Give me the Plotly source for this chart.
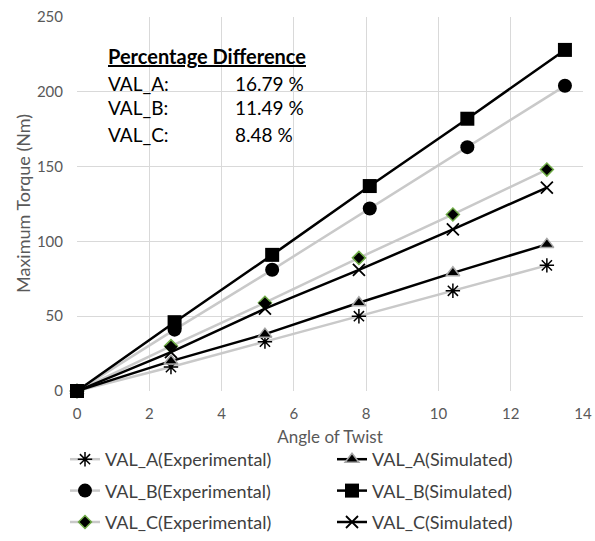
import plotly.graph_objects as go

# ---- data ----
angle_A = [0, 2.6, 5.2, 7.8, 10.4, 13.0]
A_exp = [0, 16, 33, 50, 67, 84]
A_sim = [0, 20, 38, 59, 79, 98]

angle_B = [0, 2.7, 5.4, 8.1, 10.8, 13.5]
B_exp = [0, 41, 81, 122, 163, 204]
B_sim = [0, 46, 91, 137, 182, 228]

angle_C = [0, 2.6, 5.2, 7.8, 10.4, 13.0]
C_exp = [0, 30, 59, 89, 118, 148]
C_sim = [0, 26, 55, 81, 108, 136]

pct_labels = ["VAL_A:", "VAL_B:", "VAL_C:"]
pct_values = [16.79, 11.49, 8.48]

x_ticks = [0, 2, 4, 6, 8, 10, 12, 14]
y_ticks = [0, 50, 100, 150, 200, 250]

FONT = "Lato"
GRAY_LINE = "#c9c9c9"
TXT = "#404040"
AX = "#595959"

fig = go.Figure()

def add(x, y, name, line_color, symbol, size, mcolor, mline_color, mline_width, legend):
    fig.add_trace(go.Scatter(
        x=x, y=y, name=name, mode="lines+markers",
        line=dict(color=line_color, width=2.5),
        marker=dict(symbol=symbol, size=size, color=mcolor,
                    line=dict(color=mline_color, width=mline_width)),
        legend=legend, legendgroup=name, cliponaxis=False,
    ))

add(angle_A, A_exp, "VAL_A(Experimental)", GRAY_LINE, "asterisk-open", 12, "black", "black", 1.5, "legend")
add(angle_B, B_exp, "VAL_B(Experimental)", GRAY_LINE, "circle", 14, "black", "black", 0, "legend")
add(angle_C, C_exp, "VAL_C(Experimental)", GRAY_LINE, "diamond", 10, "black", "#70ad47", 1.5, "legend")
add(angle_A, A_sim, "VAL_A(Simulated)", "black", "triangle-up", 12, "black", "#a6a6a6", 1.5, "legend2")
add(angle_B, B_sim, "VAL_B(Simulated)", "black", "square", 14, "black", "black", 0, "legend2")
add(angle_C, C_sim, "VAL_C(Simulated)", "black", "x-thin-open", 12, "black", "black", 1.8, "legend2")

L, R, T, B = 77, 12, 17, 150
W, H = 595, 541
pw, ph = W - L - R, H - T - B

def px(xp):
    return (xp - L) / pw

def py(yp):
    return (H - B - yp) / ph

annotations = [
    dict(text="<b><u>Percentage Difference</u></b>", x=px(106), y=py(56),
         xanchor="left", yanchor="middle", font=dict(size=20, color="black", family=FONT)),
]
row_y = [83, 108, 134]
for lab, val, yy in zip(pct_labels, pct_values, row_y):
    annotations.append(dict(text=lab, x=px(106), y=py(yy), xanchor="left", yanchor="middle",
                            font=dict(size=19, color="black", family=FONT)))
    annotations.append(dict(text=f"{val:.2f} %", x=px(233), y=py(yy), xanchor="left", yanchor="middle",
                            font=dict(size=19, color="black", family=FONT)))
# y-axis title
annotations.append(dict(text="Maximum Torque (Nm)", x=px(23), y=0.5, textangle=-90,
                        xanchor="center", yanchor="middle", font=dict(size=18, color=AX, family=FONT)))
for a in annotations:
    a.update(xref="paper", yref="paper", showarrow=False)

fig.update_layout(
    width=W, height=H,
    margin=dict(l=L, r=R, t=T, b=B, autoexpand=False),
    paper_bgcolor="white", plot_bgcolor="white",
    font=dict(family=FONT, color=AX),
    showlegend=True,
    annotations=annotations,
    xaxis=dict(range=[0, 14], tickvals=x_ticks, showgrid=True, gridcolor="#d9d9d9", gridwidth=1,
               zeroline=False, showline=False, tickfont=dict(size=15, color=AX), ticks="",
               ticklabelstandoff=12, automargin=True,
               title=dict(text="Angle of Twist", font=dict(size=17, color=AX), standoff=10)),
    yaxis=dict(range=[0, 250], tickvals=y_ticks, showgrid=True, gridcolor="#d9d9d9", gridwidth=1,
               zeroline=False, showline=False, tickfont=dict(size=15, color=AX), ticks="",
               ticklabelstandoff=13, automargin=True),
    legend=dict(xref="container", yref="container", x=65 / W, y=1 - 441 / H,
                xanchor="left", yanchor="top", orientation="v",
                font=dict(size=18, color=TXT, family=FONT), tracegroupgap=5,
                bgcolor="rgba(0,0,0,0)", itemwidth=30),
    legend2=dict(xref="container", yref="container", x=332 / W, y=1 - 441 / H,
                 xanchor="left", yanchor="top", orientation="v",
                 font=dict(size=18, color=TXT, family=FONT), tracegroupgap=5,
                 bgcolor="rgba(0,0,0,0)", itemwidth=30),
)

fig.write_html("out.html", config={"displayModeBar": False},
               post_script="document.body.style.margin='0px';")
